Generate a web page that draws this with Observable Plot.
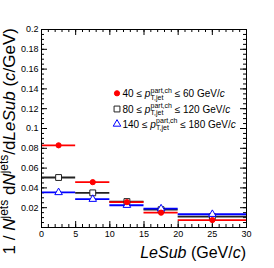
<!DOCTYPE html>
<html>
<head>
<meta charset="utf-8">
<script src="https://cdn.jsdelivr.net/npm/d3@7"></script>
<script src="https://cdn.jsdelivr.net/npm/@observablehq/plot@0.6"></script>
<style>
  html, body { margin: 0; padding: 0; background: #fff; }
  svg { display: block; }
</style>
</head>
<body>
<script>
// ---- data ----
const binLo = [0, 5, 10, 15, 20];
const binHi = [5, 10, 15, 20, 30];
const seriesNames = ["40-60", "80-120", "140-180"];
const seriesLow = ["40", "80", "140"];
const seriesHigh = ["60", "120", "180"];
const red40to60 = [0.083, 0.0458, 0.0256, 0.0150, 0.0075];
const black80to120 = [0.0505, 0.0350, 0.0262, 0.0180, 0.0110];
const blue140to180 = [0.0354, 0.0286, 0.0225, 0.0190, 0.0134];
const xMajorTicks = [0, 5, 10, 15, 20, 25, 30];
const xMinorTicks = d3.range(0, 31, 1);
const yLabelTicks = [0.02, 0.04, 0.06, 0.08, 0.1, 0.12, 0.14, 0.16, 0.18, 0.2];
const yMajorTicks = [0, 0.02, 0.04, 0.06, 0.08, 0.1, 0.12, 0.14, 0.16, 0.18, 0.2];
const yMinorTicks = d3.range(0, 41).map(i => +(i * 0.005).toFixed(3));

const W = 274, H = 268;
const mTop = 29, mRight = 28, mBottom = 41, mLeft = 41;
const plotW = W - mLeft - mRight, plotH = H - mTop - mBottom;

const styles = [
  {values: red40to60, color: "#ff0000", symbol: "circle", r: 2.6, fill: "#ff0000", stroke: "#ff0000"},
  {values: black80to120, color: "#222222", symbol: "square", r: 3.3, fill: "white", stroke: "#222222"},
  {values: blue140to180, color: "#0000ff", symbol: "triangle", r: 2.8, fill: "white", stroke: "#0000ff"}
];

function rowsOf(k) {
  return binLo.map((lo, i) => ({series: seriesNames[k], lo, hi: binHi[i], mid: (lo + binHi[i]) / 2, v: styles[k].values[i]}));
}

const drawOrder = [1, 2, 0];
const dataMarks = [];
for (const k of drawOrder) {
  const s = styles[k];
  dataMarks.push(Plot.ruleY(rowsOf(k), {y: "v", x1: "lo", x2: "hi", stroke: s.color, strokeWidth: 1.8}));
}
for (const k of drawOrder) {
  const s = styles[k];
  dataMarks.push(Plot.dot(rowsOf(k), {x: "mid", y: "v", symbol: s.symbol, r: s.r, fill: s.fill, stroke: s.stroke, strokeWidth: 1}));
}

const tickMajor = 6, tickMinor = 3;
const chart = Plot.plot({
  width: W, height: H,
  marginTop: mTop, marginRight: mRight, marginBottom: mBottom, marginLeft: mLeft,
  style: {fontFamily: "'Liberation Sans', Arial, Helvetica, sans-serif", fontSize: "9px", background: "white", color: "black", overflow: "visible"},
  x: {domain: [0, 30]},
  y: {domain: [0, 0.2]},
  marks: [
    Plot.axisX({ticks: xMajorTicks, tickSize: 0, tickPadding: 3, tickFormat: d => String(d), label: null, fontSize: 9}),
    Plot.axisY({ticks: yLabelTicks, tickSize: 0, tickPadding: 3, tickFormat: d => String(+d.toFixed(2)), label: null, fontSize: 9}),
    Plot.tickX(xMinorTicks, {x: d => d, insetTop: plotH - tickMinor, stroke: "black"}),
    Plot.tickX(xMajorTicks, {x: d => d, insetTop: plotH - tickMajor, stroke: "black"}),
    Plot.tickX(xMinorTicks, {x: d => d, insetBottom: plotH - tickMinor, stroke: "black"}),
    Plot.tickX(xMajorTicks, {x: d => d, insetBottom: plotH - tickMajor, stroke: "black"}),
    Plot.tickY(yMinorTicks, {y: d => d, insetRight: plotW - tickMinor, stroke: "black"}),
    Plot.tickY(yMajorTicks, {y: d => d, insetRight: plotW - tickMajor, stroke: "black"}),
    Plot.tickY(yMinorTicks, {y: d => d, insetLeft: plotW - tickMinor, stroke: "black"}),
    Plot.tickY(yMajorTicks, {y: d => d, insetLeft: plotW - tickMajor, stroke: "black"}),
    ...dataMarks,
    Plot.frame({stroke: "black", strokeWidth: 1})
  ]
});
document.body.appendChild(chart);

const svg = d3.select(chart);
const FONT = "'Liberation Sans', Arial, Helvetica, sans-serif";

// ---- y-axis title ----
const yt = svg.append("text")
  .attr("transform", "translate(15,28) rotate(-90)")
  .attr("text-anchor", "end")
  .attr("font-family", FONT).attr("font-size", 17).attr("fill", "black");
yt.append("tspan").text("1 / ");
yt.append("tspan").attr("font-style", "italic").text("N");
yt.append("tspan").attr("font-size", 12).attr("dy", -7).text("jets");
yt.append("tspan").attr("dy", 7).text(" d");
yt.append("tspan").attr("font-style", "italic").text("N");
yt.append("tspan").attr("font-size", 12).attr("dy", -7).text("jets");
yt.append("tspan").attr("dy", 7).text("/d");
yt.append("tspan").attr("font-style", "italic").text("LeSub");
yt.append("tspan").text(" (");
yt.append("tspan").attr("font-style", "italic").text("c");
yt.append("tspan").text("/GeV)");

// ---- x-axis title ----
const xt = svg.append("text")
  .attr("x", 246).attr("y", 258)
  .attr("text-anchor", "end")
  .attr("font-family", FONT).attr("font-size", 16).attr("fill", "black");
xt.append("tspan").attr("font-style", "italic").text("LeSub");
xt.append("tspan").text(" (GeV/");
xt.append("tspan").attr("font-style", "italic").text("c");
xt.append("tspan").text(")");

// ---- legend ----
const legendY = [93.3, 109, 124];
const legendMarkerX = 117, legendTextX = 122.5;
const symMap = {circle: d3.symbolCircle, square: d3.symbolSquare, triangle: d3.symbolTriangle};
styles.forEach((s, k) => {
  const cy = legendY[k];
  svg.append("path")
    .attr("transform", `translate(${legendMarkerX},${cy})`)
    .attr("d", d3.symbol(symMap[s.symbol], Math.PI * s.r * s.r)())
    .attr("fill", s.fill).attr("stroke", s.stroke).attr("stroke-width", 1);
  const base = cy + 3.6;
  const g = svg.append("g").attr("font-family", FONT).attr("fill", "black").attr("text-anchor", "start");
  const t1 = g.append("text").attr("x", legendTextX).attr("y", base).attr("font-size", 10);
  t1.append("tspan").text(seriesLow[k] + " \u2264 ");
  t1.append("tspan").attr("font-style", "italic").text("p");
  const x1 = legendTextX + t1.node().getComputedTextLength() + 0.3;
  const sup = g.append("text").attr("x", x1).attr("y", base - 4.2).attr("font-size", 7).text("part,ch");
  const sub = g.append("text").attr("x", x1).attr("y", base + 2.6).attr("font-size", 7).text("T,jet");
  const x2 = x1 + Math.max(sup.node().getComputedTextLength(), sub.node().getComputedTextLength());
  const t2 = g.append("text").attr("x", x2).attr("y", base).attr("font-size", 10);
  t2.append("tspan").text(" \u2264 " + seriesHigh[k] + " GeV/");
  t2.append("tspan").attr("font-style", "italic").text("c");
});
</script>
</body>
</html>
